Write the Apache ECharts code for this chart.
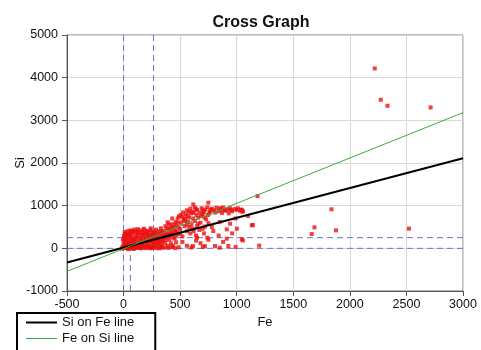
<!DOCTYPE html>
<html>
<head>
<meta charset="utf-8">
<script src="https://cdn.jsdelivr.net/npm/echarts@6/dist/echarts.min.js"></script>
<style>
html,body{margin:0;padding:0;background:#fff;}
#c{width:481px;height:350px;}
</style>
</head>
<body>
<div id="c"></div>
<script>
// ---- data ----
var title = 'Cross Graph';
var xName = 'Fe';
var yName = 'Si';
var xRange = [-500, 3000, 500];
var yRange = [-1000, 5000, 1000];

// scatter points [Fe, Si]
var pointsCluster = [
  [5,10],[12,40],[20,80],[8,150],[15,220],[25,300],[10,380],[30,15],[40,120],[45,260],
  [50,60],[55,190],[60,340],[70,20],[75,100],[80,240],[85,400],[90,160],[100,50],[105,300],
  [110,210],[115,10],[120,130],[130,360],[135,80],[140,250],[150,30],[155,170],[160,310],[165,420],
  [170,110],[180,200],[185,40],[190,350],[200,270],[205,140],[210,20],[215,410],[220,90],[230,230],
  [235,320],[240,170],[250,50],[255,380],[260,280],[265,120],[270,15],[280,210],[285,440],[290,330],
  [300,80],[305,170],[310,260],[320,30],[325,380],[330,470],[340,130],[345,220],[350,300],[-10,30],
  [-5,200],[0,100],[3,290],[18,350],[35,400],[65,420],[95,440],[125,450],[180,460],[240,470],
  [28,5],[62,5],[98,2],[145,8],[195,5],[245,10],[295,5],[345,15],[-15,-10],[40,-20],[90,-15],
  [22,130],[48,330],[72,180],[118,390],[148,60],[175,280],[208,330],[262,200],[318,150],[338,400]
];
var pointsClusterFill = [
  [2,60],[6,250],[14,330],[26,190],[33,70],[38,310],[44,170],[52,400],[58,110],[66,280],
  [74,50],[82,350],[88,200],[96,100],[102,380],[108,250],[112,70],[126,300],[132,180],[138,420],
  [144,120],[152,360],[158,230],[162,60],[172,340],[178,150],[186,420],[192,90],[198,220],[212,370],
  [218,180],[224,300],[228,60],[238,420],[244,260],[252,140],[258,330],[268,380],[274,90],[278,300],
  [284,160],[292,240],[298,400],[304,110],[312,340],[316,210],[328,290],[334,60],[342,350],[348,180],
  [356,240],[362,330],[368,120],[374,280],[386,350],[392,60],[398,440],[404,210],[412,300],[418,120],
  [426,480],[432,350],[438,60],[446,560],[452,230],[458,420],[464,140],[472,380],[478,700],[486,490],
  [16,10],[36,30],[56,0],[76,35],[96,20],[116,40],[136,25],[156,0],[176,20],[216,35],
  [236,0],[256,25],[276,40],[316,0],[336,35],[366,20],[396,10],[426,30],[456,5],[486,25]
];
var pointsBand = [
  [360,400],[370,520],[380,200],[390,610],[400,330],[410,460],[420,560],[430,700],[440,250],[450,400],
  [460,620],[470,520],[480,330],[490,750],[500,450],[510,600],[520,280],[530,680],[540,520],[550,800],
  [560,400],[570,620],[580,720],[590,350],[600,560],[610,460],[620,830],[630,640],[640,300],[650,520],
  [660,720],[670,430],[680,600],[700,800],[710,350],[720,510],[730,680],[740,250],[750,590],[380,470],
  [420,380],[460,300],[500,350],[540,640],[580,500],[620,400],[660,580],[700,460],[400,560],[440,500],
  [480,600],[520,740],[560,560],[505,780],[525,840],[545,700],[565,760],[595,820],[615,700],[645,780],
  [685,760],[715,720],[745,780]
];
var pointsTop = [
  [560,890],[590,930],[610,860],[630,960],[650,900],[670,840],[690,940],[700,880],[720,910],[740,960],
  [760,860],[780,930],[800,890],[820,950],[840,870],[860,920],[880,960],[900,880],[920,910],[940,940],
  [960,870],[980,920],[1000,900],[1030,880],[1050,860],[616,1030],[749,1070],[870,830],[930,820],[760,820],
  [580,860],[640,920],[710,850],[770,900],[810,840],[850,940],[890,900],[950,900],[1010,940],[1040,910]
];
var pointsScattered = [
  [520,150],[560,60],[600,20],[613,54],[640,180],[680,120],[719,54],[750,200],[793,405],[808,54],
  [840,300],[880,150],[912,445],[912,227],[926,54],[941,578],[960,350],[1001,461],[1045,210],[1054,187],
  [1134,539],[1143,546],[1199,63],[780,500],[850,620],[990,700],[1100,760],[1184,1225],[1045,897],[1054,867],
  [700,30],[850,15],[990,30],[650,250]
];
var pointsOutliers = [
  [1663,335],[1687,492],[1838,915],[1878,421],[2220,4216],[2273,3482],[2333,3342],[2522,461],[2714,3302]
];

// regression lines (end points)
var siOnFeLine = [[-500,-330],[3000,2110]];
var feOnSiLine = [[-500,-540],[3000,3180]];

// dashed reference lines
var refVertical = [[[0,-1000],[0,5000]], [[265,-1000],[265,5000]], [[60,-1000],[60,0]]];
var refHorizontal = [[[-500,0],[3000,0]], [[-500,250],[3000,250]]];

// ---- chart ----
var allPoints = pointsCluster.concat(pointsClusterFill, pointsBand, pointsTop, pointsScattered, pointsOutliers);
var chart = echarts.init(document.getElementById('c'), null, {renderer:'canvas'});
var font = 'Liberation Sans, Arial, sans-serif';
var series = [];
refVertical.concat(refHorizontal).forEach(function(seg){
  series.push({
    type:'line', data:seg, symbol:'none', silent:true, z:1,
    itemStyle:{color:'#6f6fc6'},
    lineStyle:{color:'#6f6fc6', width:1, type:[6,4]}
  });
});
series.push({
  name:'points', type:'scatter', data:allPoints, symbol:'rect', symbolSize:4, z:2,
  itemStyle:{color:'#ec1010'}
});
series.push({
  name:'Si on Fe line', type:'line', data:siOnFeLine, symbol:'none', z:3,
  itemStyle:{color:'#000'},
  lineStyle:{color:'#000', width:2}
});
series.push({
  name:'Fe on Si line', type:'line', data:feOnSiLine, symbol:'none', z:3,
  itemStyle:{color:'#3caa3c'},
  lineStyle:{color:'#3caa3c', width:1}
});

function plain(v){ return String(v); }

chart.setOption({
  animation:false,
  title:{
    text:title, left:256, top:10, textAlign:'center',
    textStyle:{fontFamily:font, fontSize:16, fontWeight:'bold', color:'#111'}
  },
  legend:{
    data:[
      {name:'Si on Fe line', icon:'path://M0,0H31V2H0Z'},
      {name:'Fe on Si line', icon:'path://M0,0H31V1H0Z'}
    ],
    orient:'vertical', left:17, top:313, height:80,
    backgroundColor:'#fff',
    borderColor:'#000', borderWidth:2, borderRadius:0,
    padding:[3,21,10,9],
    itemWidth:31, itemHeight:14, itemGap:3,
    textStyle:{fontFamily:font, fontSize:13, color:'#111'}
  },
  grid:{left:67, top:35, width:396, height:256, show:true, borderColor:'#777', borderWidth:1,
        containLabel:false, outerBoundsMode:'none'},
  xAxis:{
    type:'value', min:xRange[0], max:xRange[1], interval:xRange[2],
    name:xName, nameLocation:'middle', nameGap:25, nameMoveOverlap:false,
    nameTextStyle:{fontFamily:font, fontSize:13, color:'#111'},
    axisLine:{show:true, onZero:false, lineStyle:{color:'#555'}},
    axisTick:{show:true, length:5, lineStyle:{color:'#555'}},
    axisLabel:{fontFamily:font, fontSize:12.5, color:'#111', margin:7, formatter:plain},
    splitLine:{show:true, lineStyle:{color:'#d8d8d8'}}
  },
  yAxis:{
    type:'value', min:yRange[0], max:yRange[1], interval:yRange[2],
    name:yName, nameLocation:'middle', nameGap:40, nameMoveOverlap:false,
    nameTextStyle:{fontFamily:font, fontSize:13, color:'#111'},
    axisLine:{show:true, onZero:false, lineStyle:{color:'#555'}},
    axisTick:{show:true, length:5, lineStyle:{color:'#555'}},
    axisLabel:{fontFamily:font, fontSize:12.5, color:'#111', margin:9, formatter:plain},
    splitLine:{show:true, lineStyle:{color:'#d8d8d8'}}
  },
  series:series
});
</script>
</body>
</html>
